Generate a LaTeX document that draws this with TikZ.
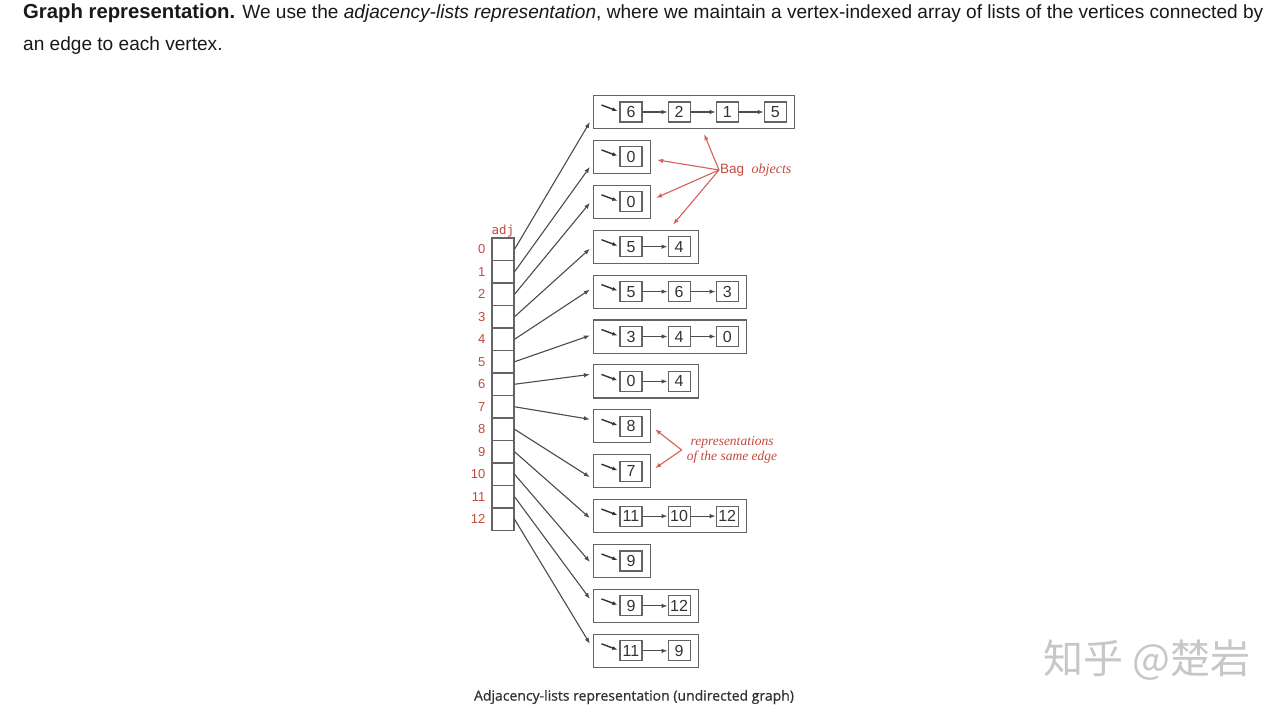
\documentclass[tikz,border=0pt]{standalone}
\usepackage{fontspec}
\setmainfont{Liberation Sans}
\setmonofont{DejaVu Sans Mono}
\newfontfamily\serifnote{Liberation Serif}
\newfontfamily\capfont[FakeBold=0.8]{Open Sans}
\newfontfamily\cjkfont{Noto Sans CJK SC}
\usetikzlibrary{shapes,arrows,arrows.meta,positioning,fit,calc}
\definecolor{redlabel}{RGB}{196,74,62}
\definecolor{redarrow}{RGB}{212,96,86}
\definecolor{boxgray}{RGB}{100,100,100}
\tikzstyle{cell} = [rectangle, draw=boxgray, line width=1.1pt, minimum width=22pt, minimum height=22.5pt, inner sep=0pt]
\tikzstyle{rowlabel} = [text=redlabel, inner sep=0pt, font=\fontsize{13}{13}\selectfont]
\tikzstyle{item} = [rectangle, draw=boxgray, line width=1.1pt, minimum width=22pt, minimum height=20pt, inner sep=0pt, text=black!80, font=\fontsize{16}{16}\selectfont]
\tikzstyle{bag} = [rectangle, draw=boxgray, line width=1.1pt, inner xsep=8pt, inner ysep=6pt]
\tikzstyle{line} = [draw, black!70, line width=1.1pt, -{Latex[length=6pt,width=4.5pt]}]
\tikzstyle{chain} = [draw, black!70, line width=1.1pt, -{Latex[length=6pt,width=4.5pt]}]
\tikzstyle{pointer} = [draw, black!80, line width=1.4pt, -{Latex[length=5pt,width=4pt]}]
\tikzstyle{redline} = [draw, redarrow, line width=1.1pt, -{Latex[length=6pt,width=4.5pt]}]

\begin{document}
\begin{tikzpicture}[x=1pt, y=-1pt]
    \path[use as bounding box, fill=white] (0,0) rectangle (1280,712);
    % Place text
    \node [anchor=north west, inner sep=0pt, align=left, text=black!90, font=\fontsize{19.08}{32}\selectfont] (head) at (23,4)
        {{\fontsize{20.3}{32}\selectfont\bfseries Graph representation.} We use the \textit{adjacency-lists representation}, where we maintain a vertex-indexed array of lists of the vertices connected by\\an edge to each vertex.};
    % Place array
    \foreach \i in {0,...,12} {
        \node [cell] (c\i) at (503,{249.25+22.5*\i}) {};
        \node [rowlabel, left=6pt of c\i] (r\i) {\i};
    }
    \node [text=redlabel, inner sep=0pt, font=\ttfamily\fontsize{12.5}{12.5}\selectfont, above=0pt of c0] (adj) {adj};
    % Place lists
    \foreach \i/\vals in {0/{6,2,1,5},1/{0},2/{0},3/{5,4},4/{5,6,3},5/{3,4,0},6/{0,4},7/{8},8/{7},9/{11,10,12},10/{9},11/{9,12},12/{11,9}} {
        \foreach \v [count=\j] in \vals {
            \ifnum\j=1
                \node [item] (n\i-\j) at (631,{112+44.9*\i}) {\v};
                \coordinate (s\i) at ($(n\i-1.west)+(-18,0)$);
                \path [pointer] ($(n\i-1.west)+(-18,-7)$) -- ($(n\i-1.west)+(-2,-1)$);
            \else
                \pgfmathtruncatemacro\k{\j-1}
                \node [item, right=25pt of n\i-\k] (n\i-\j) {\v};
                \path [chain] (n\i-\k) -- (n\i-\j);
            \fi
            \coordinate (e\i) at (n\i-\j.east);
        }
        \node [bag, fit=(s\i)(n\i-1)(e\i)] (b\i) {};
    }
    % Draw edges
    \foreach \i/\d in {0/10,1/10,2/1,3/2,4/-2,5/-1,6/-7,7/-7,8/6,9/2,10/1,11/-7,12/-7}
        \path [line] (c\i.east) -- ($(b\i.west)+(-3,\d)$);
    % Notes
    \node [anchor=west, inner sep=1pt, text=redlabel, font=\fontsize{13.5}{13.5}\selectfont] (bagnote) at (719,170)
        {Bag\ \ {\serifnote\itshape\fontsize{14}{14}\selectfont objects}};
    \path [redline] (bagnote.west) -- ($(b0.south)+(10,5)$);
    \path [redline] (bagnote.west) -- ($(b1.east)+(6,3)$);
    \path [redline] (bagnote.west) -- ($(b2.east)+(5,-4)$);
    \path [redline] (bagnote.west) -- ($(b3.north)+(27,-5)$);
    \node [inner xsep=5pt, inner ysep=0pt, align=center, text=redlabel, font=\serifnote\itshape\fontsize{13.5}{15}\selectfont] (edgenote) at (732,450)
        {representations\\of the same edge};
    \path [redline] (edgenote.west) -- ($(b7.east)+(4,3)$);
    \path [redline] (edgenote.west) -- ($(b8.east)+(4,-3)$);
    \node [text=black!80, font=\capfont\fontsize{14}{14}\selectfont] (caption) at (634,697)
        {Adjacency-lists representation (undirected graph)};
    \node [text=black!22, font=\cjkfont\fontsize{40}{40}\selectfont] (mark) at (1147,660) {知乎 @楚岩};
\end{tikzpicture}
\end{document}
